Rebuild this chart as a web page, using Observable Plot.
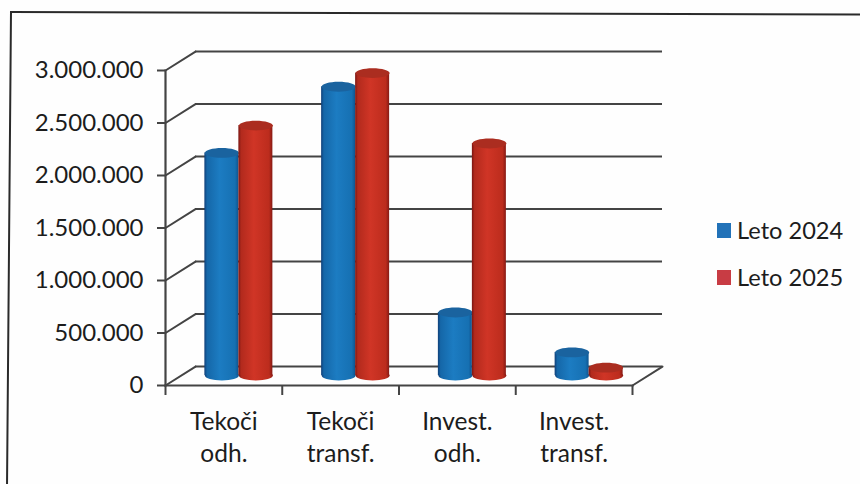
<!DOCTYPE html>
<html>
<head>
<meta charset="utf-8">
<script src="https://cdn.jsdelivr.net/npm/d3@7"></script>
<script src="https://cdn.jsdelivr.net/npm/@observablehq/plot@0.6"></script>
<style>
  html, body { margin: 0; padding: 0; background: #fefefe; overflow: hidden; }
  #page { position: relative; width: 860px; height: 484px; overflow: hidden; font-family: Lato, sans-serif; color: #1c1c1c; }
  #border { position: absolute; left: 10px; top: 11px; width: 920px; height: 540px; border: 2px solid #2a2a2a; box-sizing: border-box; transform-origin: 0 0; transform: skew(-0.48deg, 0.17deg); }
  #chart { position: absolute; left: 0; top: 0; }
  .legend-item { position: absolute; left: 717px; display: flex; align-items: center; font-size: 23.6px; line-height: 28px; height: 28px; }
  .legend-item i { display: block; width: 14px; height: 15px; margin-right: 6px; }
</style>
</head>
<body>
<div id="page">
  <div id="border"></div>
  <div id="chart"></div>
  <div class="legend-item" style="top:216px"><i style="background:#2272b8"></i><span id="l0"></span></div>
  <div class="legend-item" style="top:263px"><i style="background:#c83c44"></i><span id="l1"></span></div>
</div>
<script>
const categories = ["Tekoči\nodh.", "Tekoči\ntransf.", "Invest.\nodh.", "Invest.\ntransf."];
const leto2024 = [2120000, 2750000, 600000, 220000];
const leto2025 = [2380000, 2880000, 2210000, 75000];
const seriesNames = ["Leto 2024", "Leto 2025"];
const yTicks = [0, 500000, 1000000, 1500000, 2000000, 2500000, 3000000];
const xTicks = [0, 1, 2, 3, 4];

document.getElementById("l0").textContent = seriesNames[0];
document.getElementById("l1").textContent = seriesNames[1];

const line = "#444444";
const depthX = 30, depthY = -19;
const radius = 17;
const barInset = 116.75 / 2 - radius;
const groundDy = -10;

const ellipse = {
  draw(c, size) {
    const rx = Math.sqrt(size / Math.PI), ry = rx * 0.29, kx = rx * 0.5523, ky = ry * 0.5523;
    c.moveTo(-rx, 0);
    c.bezierCurveTo(-rx, -ky, -kx, -ry, 0, -ry);
    c.bezierCurveTo(kx, -ry, rx, -ky, rx, 0);
    c.bezierCurveTo(rx, ky, kx, ry, 0, ry);
    c.bezierCurveTo(-kx, ry, -rx, ky, -rx, 0);
    c.closePath();
  }
};
const slant = {
  draw(c, l) { c.moveTo(0, 0); c.lineTo(0, -l); }
};

const gradients = () => {
  const defs = d3.create("svg:defs");
  const make = (id, stops) => {
    const g = defs.append("linearGradient").attr("id", id).attr("x1", 0).attr("x2", 1).attr("y1", 0).attr("y2", 0);
    stops.forEach(([o, c]) => g.append("stop").attr("offset", o).attr("stop-color", c));
  };
  make("blueG", [[0, "#103f78"], [0.08, "#1567a8"], [0.45, "#1c7cc2"], [0.9, "#1670b2"], [1, "#0f5590"]]);
  make("redG", [[0, "#7a1512"], [0.08, "#b22a1d"], [0.45, "#d03526"], [0.9, "#bc2c1d"], [1, "#861a14"]]);
  return defs.node();
};

function cylinders(values, dx, grad, cap) {
  const rows = values.map((v, i) => ({ i, v }));
  const common = { dx, dy: groundDy };
  return [
    Plot.dot(rows, { x: d => d.i + 0.5, y: () => 0, r: radius, symbol: ellipse, fill: `url(#${grad})`, ...common }),
    Plot.rectY(rows, { x1: d => d.i, x2: d => d.i + 1, y1: () => 0, y2: d => d.v, insetLeft: barInset, insetRight: barInset, fill: `url(#${grad})`, ...common }),
    Plot.dot(rows, { x: d => d.i + 0.5, y: d => d.v, r: radius, symbol: ellipse, fill: cap, ...common })
  ];
}

const chart = Plot.plot({
  width: 860,
  height: 484,
  marginLeft: 165,
  marginRight: 228,
  marginTop: 70,
  marginBottom: 99,
  style: { background: "transparent", fontFamily: "Lato, sans-serif", color: "#1c1c1c", overflow: "visible" },
  x: { domain: [0, 4] },
  y: { domain: [0, 3000000] },
  marks: [
    gradients,
    Plot.ruleY(yTicks, { dx: depthX, dy: depthY, stroke: line, strokeWidth: 2.2 }),
    Plot.vector(yTicks, { y: d => d, frameAnchor: "left", length: 35.5, rotate: 57.7, anchor: "start", shape: slant, stroke: line, strokeWidth: 2 }),
    Plot.vector([yTicks[0]], { y: d => d, frameAnchor: "right", length: 35.5, rotate: 57.7, anchor: "start", shape: slant, stroke: line, strokeWidth: 2 }),
    Plot.frame({ anchor: "left", stroke: line, strokeWidth: 2.2 }),
    Plot.frame({ anchor: "bottom", stroke: line, strokeWidth: 2.2 }),
    Plot.axisY({ ticks: yTicks, tickSize: 8, tickPadding: 14, fontSize: 24, label: null, stroke: line, strokeWidth: 2, tickFormat: d => d3.format(",")(d).replaceAll(",", ".") }),
    Plot.axisX({ ticks: xTicks, tickSize: 10, label: null, stroke: line, strokeWidth: 2, tickFormat: () => "" }),
    Plot.text(categories, { x: (d, i) => i + 0.5, y: () => 0, text: d => d, dy: 22, lineAnchor: "top", lineHeight: 1.3, fontSize: 24.5, fill: "#1c1c1c" }),
    ...cylinders(leto2024, -2, "blueG", "#1a639f"),
    ...cylinders(leto2025, 32, "redG", "#ab2d20")
  ]
});
document.getElementById("chart").appendChild(chart);
</script>
</body>
</html>
